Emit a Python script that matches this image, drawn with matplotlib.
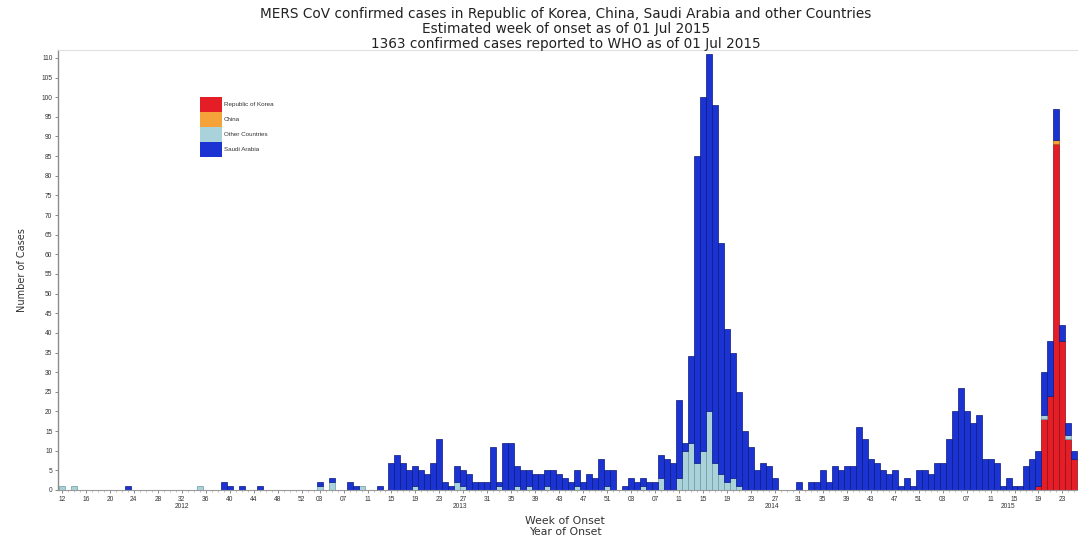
import numpy as np
import matplotlib
matplotlib.use("Agg")
import matplotlib.pyplot as plt
from matplotlib.patches import Patch

plt.rcParams['font.family'] = ['Liberation Sans', 'DejaVu Sans']

# ---------------- data (weekly cases by week of onset) ----------------
years = [2012, 2013, 2014, 2015]
first_week = [12, 1, 1, 1]

saudi_2012 = [0,0,0,0,0,0,0,0,0,0, 0,1,0,0,0,0,0,0,0,0, 0,0,0,0,0,0,0,2,1,0,
              1,0,0,1,0,0,0,0,0,0, 0]
other_2012 = [1,0,1,0,0,0,0,0,0,0, 0,0,0,0,0,0,0,0,0,0, 0,0,0,1,0,0,0,0,0,0,
              0,0,0,0,0,0,0,0,0,0, 0]

saudi_2013 = [0,0,1,0,1,0,0,2,1,0, 0,0,1,0,7,9,7,5,5,5, 4,7,13,2,1,4,4,4,2,2,
              2,11,1,12,12,5,5,4,4,4, 4,5,4,3,2,4,2,4,3,8, 4,5]
other_2013 = [0,0,1,0,2,0,0,0,0,1, 0,0,0,0,0,0,0,0,1,0, 0,0,0,0,0,2,1,0,0,0,
              0,0,1,0,0,1,0,1,0,0, 1,0,0,0,0,1,0,0,0,0, 1,0]

saudi_2014 = [0,1,3,2,2,2,2,6,8,7, 20,2,22,78,90,91,91,59,39,32, 24,15,11,5,7,6,3,0,0,0,
              2,0,2,2,5,2,6,5,6,6, 16,13,8,7,5,4,5,1,3,1, 5,5]
other_2014 = [0,0,0,0,1,0,0,3,0,0, 3,10,12,7,10,20,7,4,2,3, 1,0,0,0,0,0,0,0,0,0,
              0,0,0,0,0,0,0,0,0,0, 0,0,0,0,0,0,0,0,0,0, 0,0]

saudi_2015 = [4,7,7,13,20,26,20,17,19,8, 8,7,1,3,1,1,6,8,9,11, 14,8,4,3,2]
other_2015 = [0,0,0,0,0,0,0,0,0,0, 0,0,0,0,0,0,0,0,0,1, 0,0,0,1,0]
korea_2015 = [0,0,0,0,0,0,0,0,0,0, 0,0,0,0,0,0,0,0,1,18, 24,88,38,13,8]
china_2015 = [0,0,0,0,0,0,0,0,0,0, 0,0,0,0,0,0,0,0,0,0, 0,1,0,0,0]

tick_weeks = {
    2012: [12, 16, 20, 24, 28, 32, 36, 40, 44, 48, 52],
    2013: [3, 7, 11, 15, 19, 23, 27, 31, 35, 39, 43, 47, 51],
    2014: [3, 7, 11, 15, 19, 23, 27, 31, 35, 39, 43, 47, 51],
    2015: [3, 7, 11, 15, 19, 23],
}

title_lines = [
    "MERS CoV confirmed cases in Republic of Korea, China, Saudi Arabia and other Countries",
    "Estimated week of onset as of 01 Jul 2015",
    "1363 confirmed cases reported to WHO as of 01 Jul 2015",
]

# ---------------- assemble ----------------
saudi = np.array(saudi_2012 + saudi_2013 + saudi_2014 + saudi_2015, dtype=float)
other = np.array(other_2012 + other_2013 + other_2014 + other_2015, dtype=float)
n12, n13, n14 = len(saudi_2012), len(saudi_2013), len(saudi_2014)
korea = np.array([0] * (n12 + n13 + n14) + korea_2015, dtype=float)
china = np.array([0] * (n12 + n13 + n14) + china_2015, dtype=float)

year_len = [n12, n13, n14, len(saudi_2015)]
year_start = np.cumsum([0] + year_len[:-1])
x = np.arange(len(saudi))

C_KOR = '#e41d26'
C_CHN = '#f6a23a'
C_OTH = '#a9d2da'
C_SAU = '#1b33d2'
EDGE = '#0c1a7a'

W, H = 1078, 538
fig = plt.figure(figsize=(W / 100, H / 100), dpi=100)
ax = fig.add_axes([58 / W, 48 / H, 1020 / W, 440 / H])

bottom = np.zeros(len(x))
for vals, col, ec in [(korea, C_KOR, '#8a1016'), (china, C_CHN, '#a06010'),
                      (other, C_OTH, '#6e9aa2'), (saudi, C_SAU, EDGE)]:
    m = vals > 0
    ax.bar(x[m], vals[m], width=1.0, bottom=bottom[m], color=col,
           edgecolor=ec, linewidth=0.5)
    bottom += vals

ax.set_xlim(-0.67, 169.6)
ax.set_ylim(0, 112)

ax.spines['right'].set_visible(False)
ax.spines['top'].set_color('#e0e0e0')
ax.spines['top'].set_linewidth(0.8)
ax.spines['left'].set_color('#8c8c8c')
ax.spines['left'].set_linewidth(1.0)
ax.spines['bottom'].set_color('#9a9a9a')
ax.spines['bottom'].set_linewidth(0.8)

ax.set_yticks(np.arange(0, 111, 5))
ax.tick_params(axis='y', labelsize=4.8, length=2, width=0.6, color='#777777',
               labelcolor='#333333', pad=2)

tick_pos, tick_lab = [], []
for yi, yr in enumerate(years):
    for wk in tick_weeks[yr]:
        tick_pos.append(year_start[yi] + wk - first_week[yi])
        tick_lab.append(f"{wk:02d}")
ax.set_xticks(tick_pos)
ax.set_xticklabels(tick_lab)
ax.set_xticks(x, minor=True)
ax.tick_params(axis='x', which='major', labelsize=4.8, length=2.5, width=0.6,
               color='#777777', labelcolor='#333333', pad=2)
ax.tick_params(axis='x', which='minor', length=1.5, width=0.5, color='#aaaaaa')

trans = ax.get_xaxis_transform()
centers = [20, 66.5, 118.5, 158]
for yr, cx in zip(years, centers):
    ax.text(cx, -13 / 440, str(yr), transform=trans, ha='center', va='top',
            fontsize=4.8, color='#333333')

fig.text(565 / W, 1 - 521 / H, "Week of Onset", ha='center', va='center',
         fontsize=7.8, color='#333333', family='DejaVu Sans')
fig.text(565 / W, 1 - 532 / H, "Year of Onset", ha='center', va='center',
         fontsize=7.8, color='#333333', family='DejaVu Sans')
fig.text(22 / W, 1 - 270 / H, "Number of Cases", ha='center', va='center',
         rotation=90, fontsize=7, color='#333333', family='DejaVu Sans')

for i, line in enumerate(title_lines):
    fig.text(566 / W, 1 - (14 + 15 * i) / H, line, ha='center', va='center',
             fontsize=9.8, color='#222222', family='DejaVu Sans')

handles = [Patch(facecolor=C_KOR, edgecolor='none', label='Republic of Korea'),
           Patch(facecolor=C_CHN, edgecolor='none', label='China'),
           Patch(facecolor=C_OTH, edgecolor='none', label='Other Countries'),
           Patch(facecolor=C_SAU, edgecolor='none', label='Saudi Arabia')]
leg = ax.legend(handles=handles, loc='upper left',
                bbox_to_anchor=(142 / 1020, (490 - 97) / 440),
                frameon=False, fontsize=4.5, handlelength=3.5, handleheight=3.3,
                labelspacing=0.0, handletextpad=0.3, borderpad=0,
                borderaxespad=0)
for t in leg.get_texts():
    t.set_color('#333333')

fig.savefig("out.png", dpi=100)
